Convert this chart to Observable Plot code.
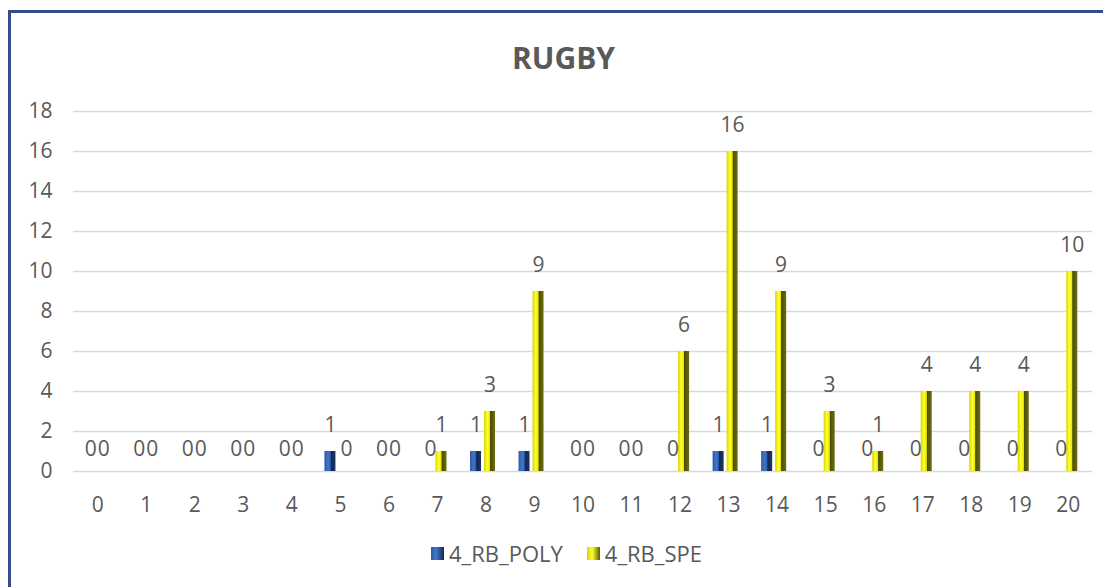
<!DOCTYPE html>
<html>
<head>
<meta charset="utf-8">
<script src="https://cdn.jsdelivr.net/npm/d3@7"></script>
<script src="https://cdn.jsdelivr.net/npm/@observablehq/plot@0.6"></script>
<style>
  html, body { margin: 0; padding: 0; background: #fff; overflow: hidden; }
  body { font-family: "Open Sans", "DejaVu Sans", sans-serif; color: #595959; }
  #wrap { position: relative; width: 1103px; height: 587px; }
  #frame { position: absolute; left: 8px; top: 10px; width: 1200px; height: 800px;
           border-top: 3px solid #384a8c; border-left: 3px solid #384a8c; box-sizing: border-box; }
  #title { position: relative; height: 90px; box-sizing: border-box; padding-top: 43px; padding-left: 24px;
           text-align: center; font-weight: 700; font-size: 30px; line-height: 30px; color: #595959; }
  #chart { position: relative; height: 433px; }
  #chart svg { display: block; }
  #legend { position: relative; height: 60px; display: flex; justify-content: center; align-items: center;
            padding-left: 30px; box-sizing: border-box; font-size: 22px; color: #595959; gap: 24px; }
  .item { display: flex; align-items: center; gap: 5px; }
  .sw { width: 13px; height: 13px; display: inline-block; }
</style>
</head>
<body>
<div id="wrap">
  <div id="frame"></div>
  <div id="title">RUGBY</div>
  <div id="chart"></div>
  <div id="legend"></div>
</div>
<script>
// ---- data ----
const categories = ["0","1","2","3","4","5","6","7","8","9","10","11","12","13","14","15","16","17","18","19","20"];
const polyValues = [0,0,0,0,0,1,0,0,1,1,0,0,0,1,1,0,0,0,0,0,0];
const speValues  = [0,0,0,0,0,0,0,1,3,9,0,0,6,16,9,3,1,4,4,4,10];
const seriesNames = ["4_RB_POLY", "4_RB_SPE"];
const yTicks = [0,2,4,6,8,10,12,14,16,18];

const poly = categories.map((c, i) => ({cat: c, value: polyValues[i]}));
const spe  = categories.map((c, i) => ({cat: c, value: speValues[i]}));

const textColor = "#595959";
const fs = 21;

const plot = Plot.plot({
  width: 1103,
  height: 433,
  marginTop: 21,
  marginBottom: 52,
  marginLeft: 73,
  marginRight: 11,
  style: {fontFamily: "'Open Sans', sans-serif", color: textColor, background: "transparent", overflow: "visible"},
  x: {domain: categories, padding: 0, round: false},
  y: {domain: [0, 18]},
  marks: [
    Plot.gridY(yTicks, {stroke: "#d9d9d9", strokeOpacity: 1, strokeWidth: 1.6}),
    Plot.axisY(yTicks, {tickSize: 0, tickPadding: 21, fontSize: fs, fill: textColor, label: null}),
    Plot.axisX({tickSize: 0, tickPadding: 26, fontSize: fs, fill: textColor, label: null}),
    Plot.barY(poly, {x: "cat", y: "value", fill: "url(#gPoly)", insetLeft: 8.8, insetRight: 28.7}),
    Plot.barY(spe, {x: "cat", y: "value", fill: "url(#gSpe)", insetLeft: 22.8, insetRight: 14.7}),
    Plot.text(poly.filter(d => d.value !== 0), {x: "cat", y: "value", text: d => String(d.value), dx: -10, dy: -26, fontSize: fs, fill: textColor}),
    Plot.text(poly.filter(d => d.value === 0), {x: "cat", y: "value", text: d => String(d.value), dx: -7, dy: -22, fontSize: fs, fill: textColor}),
    Plot.text(spe.filter(d => d.value !== 0), {x: "cat", y: "value", text: d => String(d.value), dx: 4, dy: -26, fontSize: fs, fill: textColor}),
    Plot.text(spe.filter(d => d.value === 0), {x: "cat", y: "value", text: d => String(d.value), dx: 6, dy: -22, fontSize: fs, fill: textColor})
  ]
});

const defs = `
<defs>
  <linearGradient id="gPoly" x1="0" x2="1" y1="0" y2="0">
    <stop offset="0" stop-color="#2b5aa8"/>
    <stop offset="0.35" stop-color="#4476c8"/>
    <stop offset="0.55" stop-color="#2a58a4"/>
    <stop offset="0.6" stop-color="#12284f"/>
    <stop offset="1" stop-color="#1d3566"/>
  </linearGradient>
  <linearGradient id="gSpe" x1="0" x2="1" y1="0" y2="0">
    <stop offset="0" stop-color="#d6d600"/>
    <stop offset="0.3" stop-color="#ffff33"/>
    <stop offset="0.52" stop-color="#e6e600"/>
    <stop offset="0.58" stop-color="#4c4c00"/>
    <stop offset="1" stop-color="#6e6e12"/>
  </linearGradient>
</defs>`;
plot.insertAdjacentHTML("afterbegin", defs);
document.getElementById("chart").appendChild(plot);

// legend
const legend = document.getElementById("legend");
const swatchFills = [
  "linear-gradient(90deg, #2b5aa8 0%, #4476c8 40%, #12284f 100%)",
  "linear-gradient(90deg, #d6d600 0%, #ffff33 40%, #5a5a00 100%)"
];
seriesNames.forEach((name, i) => {
  const item = document.createElement("div");
  item.className = "item";
  const sw = document.createElement("span");
  sw.className = "sw";
  sw.style.background = swatchFills[i];
  const t = document.createElement("span");
  t.textContent = name;
  item.appendChild(sw);
  item.appendChild(t);
  legend.appendChild(item);
});
</script>
</body>
</html>
